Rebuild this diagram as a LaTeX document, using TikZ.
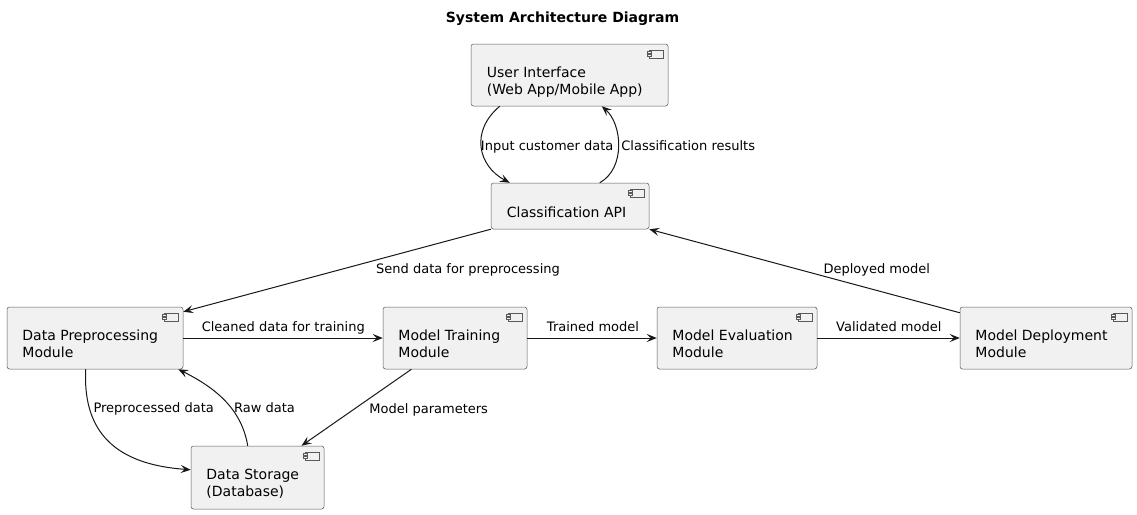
\documentclass[tikz,border=0pt]{standalone}
\usepackage{fontspec}
\setmainfont{DejaVu Sans}
\usetikzlibrary{arrows.meta}
\definecolor{boxfill}{HTML}{F1F1F1}
\definecolor{ink}{HTML}{181818}
\definecolor{frame}{HTML}{5A5A5A}
\tikzset{
  comp/.style={draw=frame, line width=0.5pt, fill=boxfill, rounded corners=2.5pt, inner sep=0pt},
  ctext/.style={anchor=base west, inner sep=0pt, font=\fontsize{14}{16.3}\selectfont},
  elabel/.style={anchor=base, inner sep=0pt, font=\fontsize{13}{15}\selectfont},
  arr/.style={draw=ink, line width=1pt, -{Stealth[length=10pt,width=8pt,inset=4pt]}},
  iconbox/.style={draw=frame, line width=0.45pt, fill=boxfill},
}
\newcommand\compicon[1]{%
  \draw[iconbox] ([xshift=-19pt,yshift=-6pt]#1.north east) rectangle ([xshift=-5pt,yshift=-14pt]#1.north east);
  \draw[iconbox] ([xshift=-21pt,yshift=-7.7pt]#1.north east) rectangle ([xshift=-17pt,yshift=-9.5pt]#1.north east);
  \draw[iconbox] ([xshift=-21pt,yshift=-10.7pt]#1.north east) rectangle ([xshift=-17pt,yshift=-12.5pt]#1.north east);
}
\newcommand\twolines[2]{\begin{tabular}[t]{@{}l@{}}#1\\#2\end{tabular}}
\begin{document}
\begin{tikzpicture}[x=1pt,y=-1pt]
\fill[white] (0,0) rectangle (1137,514);
\useasboundingbox (0,0) rectangle (1137,514);

% title
\node[anchor=base, inner sep=0pt, font=\fontsize{14}{16}\selectfont\bfseries] (title) at (562.5,22.7) {System Architecture Diagram};

% components
\node[comp, minimum width=197pt, minimum height=62pt] (ui) at (569.5,75) {};
\node[comp, minimum width=158pt, minimum height=46pt] (api) at (570,206) {};
\node[comp, minimum width=176pt, minimum height=62pt] (prep) at (95,338) {};
\node[comp, minimum width=144pt, minimum height=62pt] (train) at (455,338) {};
\node[comp, minimum width=160pt, minimum height=62pt] (eval) at (737,338) {};
\node[comp, minimum width=172pt, minimum height=62pt] (deploy) at (1046,338) {};
\node[comp, minimum width=133pt, minimum height=63pt] (store) at (257.5,477.5) {};

\foreach \n in {ui,api,prep,train,eval,deploy,store} {\compicon{\n}}

\node[ctext] (ui-t) at ([xshift=16pt,yshift=-34pt]ui.north west) {\twolines{User Interface}{(Web App/Mobile App)}};
\node[ctext] (api-t) at ([xshift=16pt,yshift=-34.5pt]api.north west) {Classification API};
\node[ctext] (prep-t) at ([xshift=15.5pt,yshift=-34pt]prep.north west) {\twolines{Data Preprocessing}{Module}};
\node[ctext] (train-t) at ([xshift=15.5pt,yshift=-34pt]train.north west) {\twolines{Model Training}{Module}};
\node[ctext] (eval-t) at ([xshift=15.5pt,yshift=-34pt]eval.north west) {\twolines{Model Evaluation}{Module}};
\node[ctext] (deploy-t) at ([xshift=15.5pt,yshift=-34pt]deploy.north west) {\twolines{Model Deployment}{Module}};
\node[ctext] (store-t) at ([xshift=15.5pt,yshift=-34pt]store.north west) {\twolines{Data Storage}{(Database)}};

% connectors
\draw[arr] ([xshift=29pt]ui.south west) .. controls (470,131) and (478,166) .. ([xshift=19pt]api.north west);
\draw[arr] ([xshift=109pt]api.north west) .. controls (626,168) and (622,124) .. ([xshift=131pt]ui.south west);
\draw[arr] (api.south west) -- ([yshift=-5pt]prep.north east);
\draw[arr] ([yshift=-6pt]deploy.north west) -- (api.south east);
\draw[arr] (prep.east) -- (train.west);
\draw[arr] (train.east) -- (eval.west);
\draw[arr] (eval.east) -- (deploy.west);
\draw[arr] ([xshift=79pt]prep.south west) .. controls (82,440) and (125,465) .. ([yshift=-24pt]store.north west);
\draw[arr] ([xshift=57pt]store.north west) .. controls (242,412) and (220,390) .. ([xshift=-5pt]prep.south east);
\draw[arr] ([xshift=28.7pt]train.south west) -- ([xshift=110.7pt]store.north west);

% connector labels
\node[elabel] (l-input) at (547.2,150.7) {Input customer data};
\node[elabel] (l-results) at (688.2,150.7) {Classification results};
\node[elabel] (l-send) at (468,273.3) {Send data for preprocessing};
\node[elabel] (l-deployed) at (876.7,273.3) {Deployed model};
\node[elabel] (l-cleaned) at (283.3,331.7) {Cleaned data for training};
\node[elabel] (l-trained) at (593,331.7) {Trained model};
\node[elabel] (l-validated) at (888.8,331.7) {Validated model};
\node[elabel] (l-pre) at (153.7,412.3) {Preprocessed data};
\node[elabel] (l-raw) at (264.5,412.3) {Raw data};
\node[elabel] (l-params) at (428.7,413) {Model parameters};
\end{tikzpicture}
\end{document}
